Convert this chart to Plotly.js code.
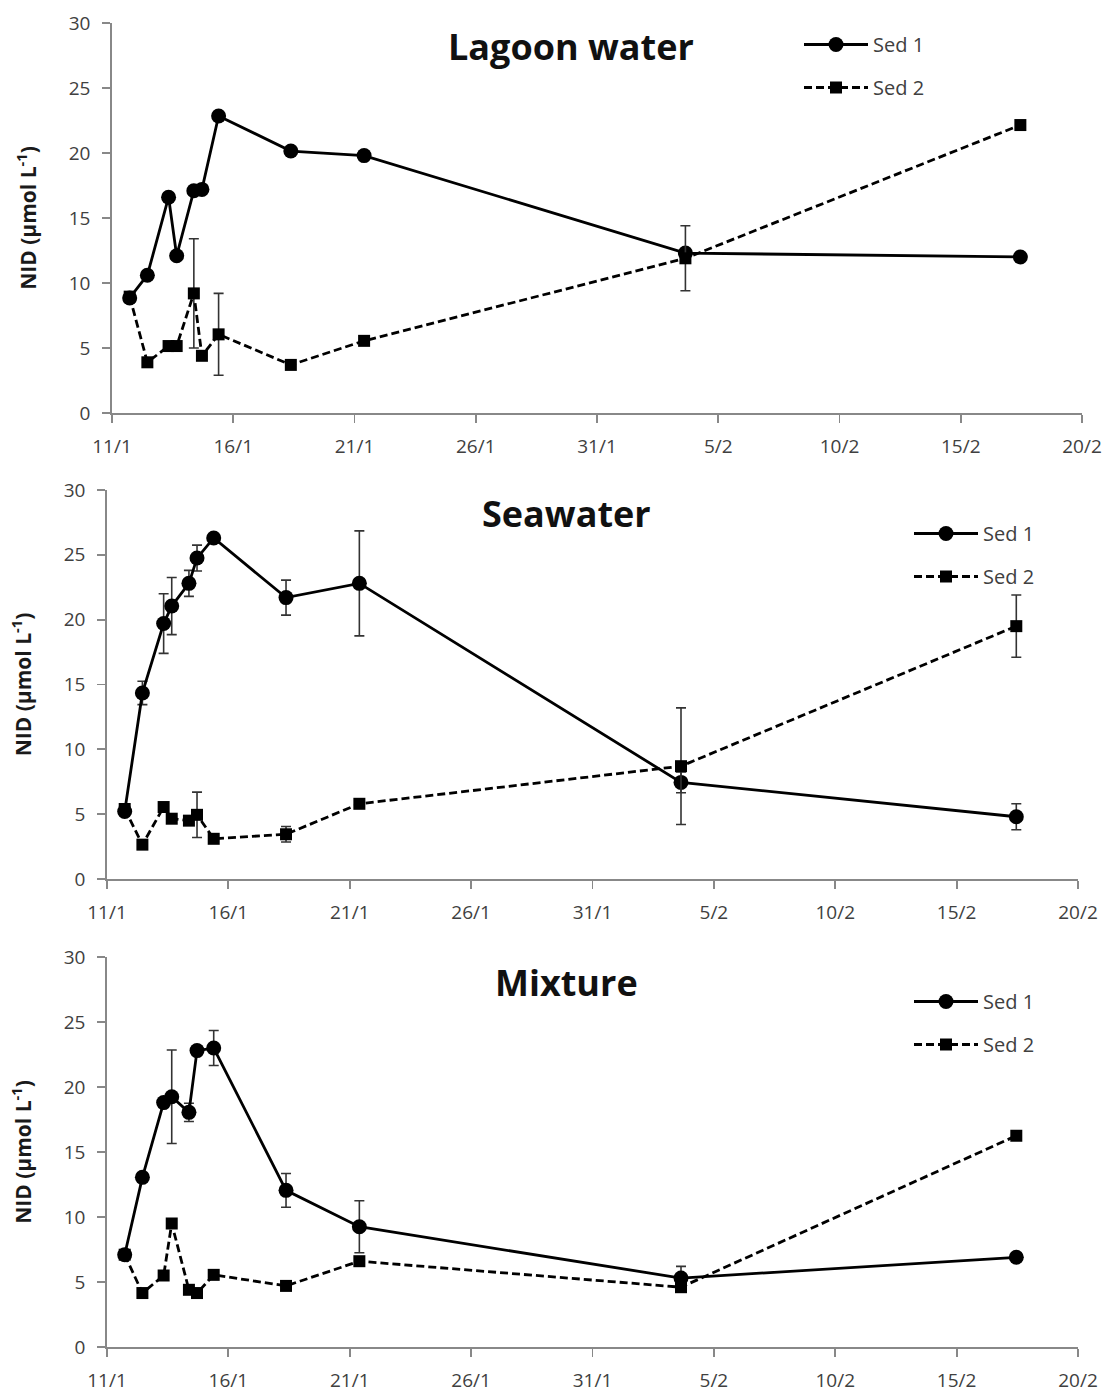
<!DOCTYPE html>
<html>
<head>
<meta charset="utf-8">
<script src="https://cdn.plot.ly/plotly-3.0.1.min.js"></script>
<style>html,body{margin:0;padding:0;background:#fff;}#chart{width:1110px;height:1392px;}</style>
</head>
<body>
<div id="chart"></div>
<script>
// Sampling times (shared by all panels)
const sampleTimes = [
  '2014-01-11 17:30', '2014-01-12 11:00', '2014-01-13 08:00', '2014-01-13 16:00',
  '2014-01-14 09:00', '2014-01-14 17:00', '2014-01-15 09:30', '2014-01-18 09:00',
  '2014-01-21 09:30', '2014-02-03 15:30', '2014-02-17 11:00'
];
const seriesNames = ['Sed 1', 'Sed 2'];
const panelTitles = ['Lagoon water', 'Seawater', 'Mixture'];
const yTitle = 'NID (µmol L<sup>-1</sup>)';

// Lagoon water
const lagoonSed1 = [8.85, 10.6, 16.6, 12.1, 17.1, 17.2, 22.85, 20.15, 19.8, 12.3, 12.0];
const lagoonSed1Err = [null, null, null, null, null, null, null, null, null, null, null];
const lagoonSed2 = [8.95, 3.9, 5.15, 5.15, 9.2, 4.4, 6.05, 3.7, 5.55, 11.9, 22.15];
const lagoonSed2Err = [null, null, null, null, 4.2, null, 3.15, null, null, 2.5, null];

// Seawater
const seaSed1 = [5.2, 14.35, 19.7, 21.05, 22.8, 24.75, 26.3, 21.7, 22.8, 7.45, 4.8];
const seaSed1Err = [null, 0.9, 2.3, 2.2, 1.0, 1.0, null, 1.35, 4.05, 0.8, 1.0];
const seaSed2 = [5.4, 2.65, 5.55, 4.65, 4.5, 4.95, 3.1, 3.45, 5.8, 8.7, 19.5];
const seaSed2Err = [null, null, null, null, null, 1.75, null, 0.6, null, 4.5, 2.4];

// Mixture
const mixSed1 = [7.1, 13.05, 18.8, 19.25, 18.05, 22.8, 23.0, 12.05, 9.25, 5.3, 6.9];
const mixSed1Err = [null, null, null, 3.6, 0.7, null, 1.35, 1.3, 2.0, 0.9, null];
const mixSed2 = [7.1, 4.15, 5.5, 9.5, 4.4, 4.15, 5.55, 4.7, 6.6, 4.6, 16.25];
const mixSed2Err = [null, null, null, null, null, null, null, null, null, null, null];

const xTick0 = '2014-01-11';
const xRange = ['2014-01-11', '2014-02-20'];
const yRange = [0, 30];

const panels = [
  {s1: lagoonSed1, e1: lagoonSed1Err, s2: lagoonSed2, e2: lagoonSed2Err},
  {s1: seaSed1, e1: seaSed1Err, s2: seaSed2, e2: seaSed2Err},
  {s1: mixSed1, e1: mixSed1Err, s2: mixSed2, e2: mixSed2Err}
];

const FONT = '"Open Sans", "Liberation Sans", sans-serif';
const AXC = '#888888';
const TXT = '#404040';

const traces = [];
panels.forEach((p, i) => {
  const sfx = i === 0 ? '' : String(i + 1);
  const lg = i === 0 ? 'legend' : 'legend' + (i + 1);
  traces.push({
    x: sampleTimes, y: p.s1, name: seriesNames[0], type: 'scatter', mode: 'lines+markers',
    xaxis: 'x' + sfx, yaxis: 'y' + sfx, legend: lg, legendgroup: 'g1_' + i,
    line: {color: '#000', width: 2.8},
    marker: {symbol: 'circle', size: 15, color: '#000'},
    error_y: {type: 'data', array: p.e1, visible: true, color: '#333', thickness: 1.6, width: 5}
  });
  traces.push({
    x: sampleTimes, y: p.s2, name: seriesNames[1], type: 'scatter', mode: 'lines+markers',
    xaxis: 'x' + sfx, yaxis: 'y' + sfx, legend: lg, legendgroup: 'g2_' + i,
    line: {color: '#000', width: 2.8, dash: '8px,4px'},
    marker: {symbol: 'square', size: 12, color: '#000'},
    error_y: {type: 'data', array: p.e2, visible: true, color: '#333', thickness: 1.6, width: 5}
  });
});

function xax(domain) {
  return {
    domain: domain, type: 'date', range: xRange, tickmode: 'linear', tick0: xTick0,
    dtick: 5 * 86400000, tickformat: '%-d/%-m', showgrid: false, zeroline: false,
    showline: true, linecolor: AXC, linewidth: 1.8, ticks: 'outside', ticklen: 8,
    tickcolor: AXC, tickwidth: 1.8, tickfont: {family: FONT, size: 19, color: TXT},
    ticklabelstandoff: 7, fixedrange: true
  };
}
function yax(domain, anchor) {
  return {
    domain: domain, anchor: anchor, range: yRange, dtick: 5, tick0: 0, showgrid: false, zeroline: false,
    showline: true, linecolor: AXC, linewidth: 1.8, ticks: 'outside', ticklen: 8,
    tickcolor: AXC, tickwidth: 1.8, tickfont: {family: FONT, size: 19, color: TXT},
    ticklabelstandoff: 8,
    title: {text: yTitle, font: {family: FONT, size: 21, color: '#1a1a1a', weight: 'bold'}, standoff: 26},
    fixedrange: true
  };
}

const W = 1110, H = 1392;
const px = v => v / W;
const py = v => 1 - v / H;

function legendAt(xpx, ypx) {
  return {
    x: px(xpx), y: py(ypx), xanchor: 'left', yanchor: 'top', bgcolor: 'rgba(0,0,0,0)',
    font: {family: FONT, size: 20, color: '#404040'}, itemwidth: 64,
    traceorder: 'grouped', tracegroupgap: 14, orientation: 'v'
  };
}

const titleFont = {family: FONT, size: 36, color: '#111', weight: 'bold'};

const layout = {
  width: W, height: H, margin: {l: 0, r: 0, t: 0, b: 0},
  paper_bgcolor: '#fff', plot_bgcolor: '#fff', showlegend: true,
  xaxis: Object.assign(xax([px(112), px(1082)]), {anchor: 'y'}),
  yaxis: yax([py(413), py(23)], 'x'),
  xaxis2: Object.assign(xax([px(107), px(1078)]), {anchor: 'y2'}),
  yaxis2: yax([py(879), py(490)], 'x2'),
  xaxis3: Object.assign(xax([px(107), px(1078)]), {anchor: 'y3'}),
  yaxis3: yax([py(1347), py(957)], 'x3'),
  legend: legendAt(799, 25),
  legend2: legendAt(909, 514),
  legend3: legendAt(909, 982),
  annotations: [
    {text: panelTitles[0], xref: 'paper', yref: 'paper', x: px(571), y: py(47), showarrow: false, font: titleFont, xanchor: 'center', yanchor: 'middle'},
    {text: panelTitles[1], xref: 'paper', yref: 'paper', x: px(566), y: py(514), showarrow: false, font: titleFont, xanchor: 'center', yanchor: 'middle'},
    {text: panelTitles[2], xref: 'paper', yref: 'paper', x: px(566), y: py(982), showarrow: false, font: titleFont, xanchor: 'center', yanchor: 'middle'}
  ]
};

Plotly.newPlot('chart', traces, layout, {displayModeBar: false, staticPlot: true});
</script>
</body>
</html>
